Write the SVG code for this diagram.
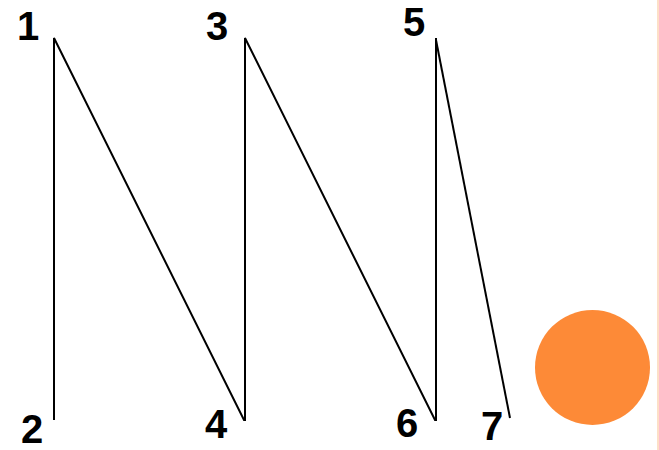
<svg xmlns="http://www.w3.org/2000/svg" width="659" height="450" viewBox="0 0 659 450">
<style>
.lbl{font-family:"Liberation Sans",Arial,sans-serif;font-size:40px;font-weight:bold;fill:#000}
.ln{stroke:#000;stroke-width:2;fill:none}
</style>
<rect width="659" height="450" fill="#fff"/>
<line x1="658" y1="0" x2="658" y2="450" stroke="#fcd5b5" stroke-width="1.5"/>
<g id="connectors">
<polyline class="ln" points="54,420 54,38 244,420 245,420 245,38 435,420 436,420 436,38"/>
<line class="ln" x1="436" y1="40" x2="510" y2="418"/>
</g>
<g id="n1"><text class="lbl" x="17" y="40">1</text></g>
<g id="n2"><text class="lbl" x="21" y="443">2</text></g>
<g id="n3"><text class="lbl" x="206" y="40">3</text></g>
<g id="n4"><text class="lbl" x="205" y="438">4</text></g>
<g id="n5"><text class="lbl" x="403" y="36">5</text></g>
<g id="n6"><text class="lbl" x="396" y="437">6</text></g>
<g id="n7"><text class="lbl" x="481" y="440">7</text></g>
<g id="dot"><circle cx="592.5" cy="367.5" r="57.5" fill="#fd8a37"/></g>
</svg>
